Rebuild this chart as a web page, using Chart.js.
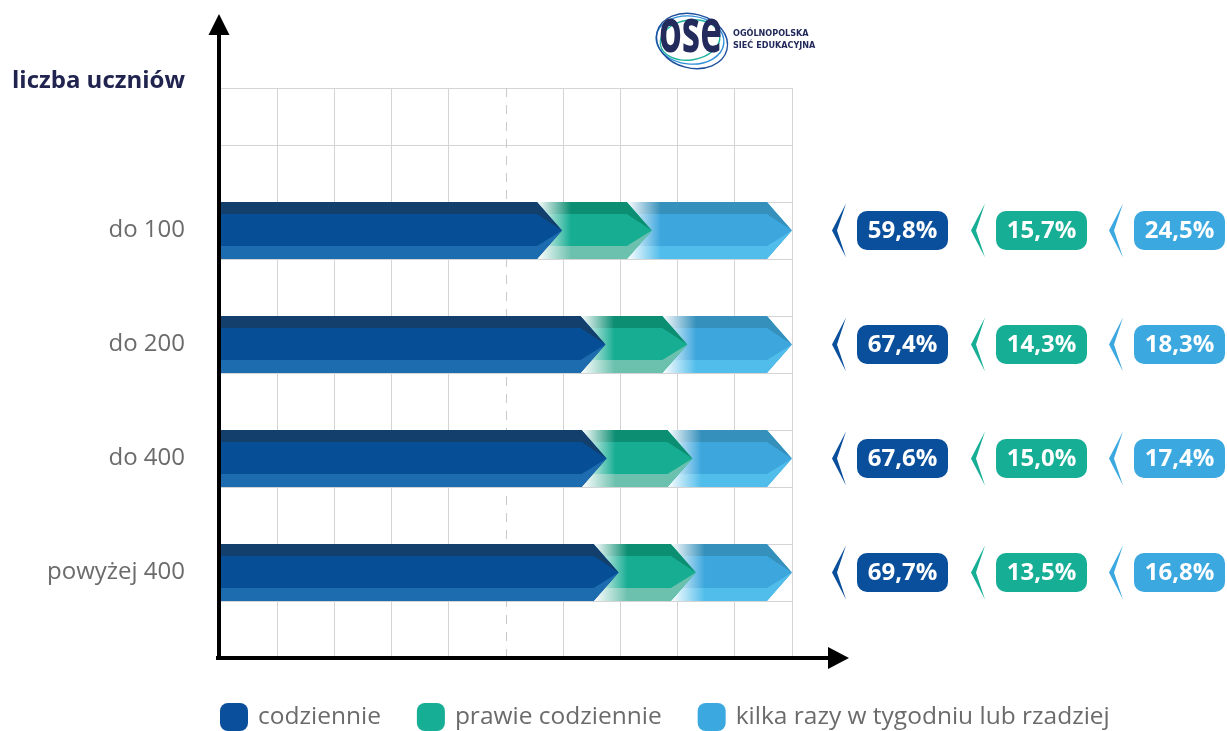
<!DOCTYPE html>
<html lang="pl">
<head>
<meta charset="utf-8">
<title>liczba uczniów</title>
<script src="https://cdn.jsdelivr.net/npm/chart.js@4.4.1/dist/chart.umd.min.js"></script>
<style>
    html, body { margin: 0; padding: 0; background: #ffffff; }
    #wrap { position: relative; width: 1227px; height: 731px; }
</style>
</head>
<body>
<div id="wrap"><canvas id="chart" width="1227" height="731"></canvas></div>
<script>
// dane
var categories = ['do 100', 'do 200', 'do 400', 'powyżej 400'];
var codziennie = [59.8, 67.4, 67.6, 69.7];
var prawieCodziennie = [15.7, 14.3, 15.0, 13.5];
var kilkaRazy = [24.5, 18.3, 17.4, 16.8];
var seriesNames = ['codziennie', 'prawie codziennie', 'kilka razy w tygodniu lub rzadziej'];
var xMin = 0;
var xMax = 100;
var xStep = 10;
var yAxisTitle = 'liczba uczniów';

(function (window, document) {
    'use strict';

    var FONT = '"Open Sans", "Noto Sans", sans-serif';
    var SLOTS = 10;

    // top band / middle / bottom band / label box
    var palette = [
        { top: '#123f6c', mid: '#064f96', bottom: '#1d6cb0', box: '#0a4f9b' },
        { top: '#0b8e72', mid: '#16ad93', bottom: '#6cc1ae', box: '#16ae94' },
        { top: '#3590bb', mid: '#3ca6dd', bottom: '#51bdeb', box: '#3ca8e0' }
    ];

    function slotOf(i) {
        return 2 + 2 * i;
    }

    function spread(values) {
        var out = [];
        for (var i = 0; i < SLOTS; i++) {
            out.push(null);
        }
        values.forEach(function (v, i) {
            out[slotOf(i)] = v;
        });
        return out;
    }

    function formatPct(v) {
        return v.toFixed(1).replace('.', ',') + '%';
    }

    var slotLabels = spread(categories).map(function (c) {
        return c || '';
    });

    function drawArrow(ctx, left, right, top, bottom, colors, fade) {
        var depth = 25;
        var cy = (top + bottom) / 2;
        var s = fade ? left - depth : left;
        var re = right - depth;
        var tip = right;
        var h = bottom - top;
        var bt = h * 0.21;
        var bb = h * 0.23;

        ctx.save();
        ctx.beginPath();
        ctx.moveTo(s, top);
        ctx.lineTo(re, top);
        ctx.lineTo(tip, cy);
        ctx.lineTo(re, bottom);
        ctx.lineTo(s, bottom);
        ctx.closePath();
        ctx.fillStyle = colors.mid;
        ctx.fill();
        ctx.clip();

        ctx.beginPath();
        ctx.moveTo(s, top);
        ctx.lineTo(re, top);
        ctx.lineTo(tip, cy);
        ctx.lineTo(re, top + bt);
        ctx.lineTo(s, top + bt);
        ctx.closePath();
        ctx.fillStyle = colors.top;
        ctx.fill();

        ctx.beginPath();
        ctx.moveTo(s, bottom - bb);
        ctx.lineTo(re, bottom - bb);
        ctx.lineTo(tip, cy);
        ctx.lineTo(re, bottom);
        ctx.lineTo(s, bottom);
        ctx.closePath();
        ctx.fillStyle = colors.bottom;
        ctx.fill();

        if (fade) {
            var g = ctx.createLinearGradient(s, 0, s + 34, 0);
            g.addColorStop(0, 'rgba(255,255,255,1)');
            g.addColorStop(1, 'rgba(255,255,255,0)');
            ctx.fillStyle = g;
            ctx.fillRect(s, top, 34, h);
        }
        ctx.restore();
    }

    var arrowBars = {
        id: 'arrowBars',
        beforeDatasetsDraw: function (chart) {
            var ctx = chart.ctx;
            var ca = chart.chartArea;
            var x50 = chart.scales.x.getPixelForValue(50);
            ctx.save();
            ctx.strokeStyle = '#c9c9c9';
            ctx.lineWidth = 1;
            ctx.setLineDash([9, 8]);
            ctx.beginPath();
            ctx.moveTo(Math.round(x50) + 0.5, ca.top);
            ctx.lineTo(Math.round(x50) + 0.5, ca.bottom);
            ctx.stroke();
            ctx.restore();
        },
        afterDatasetsDraw: function (chart) {
            var ctx = chart.ctx;
            for (var d = chart.data.datasets.length - 1; d >= 0; d--) {
                var meta = chart.getDatasetMeta(d);
                var values = chart.data.datasets[d].data;
                meta.data.forEach(function (bar, idx) {
                    if (values[idx] === null) {
                        return;
                    }
                    var p = bar.getProps(['x', 'y', 'base', 'height'], true);
                    drawArrow(ctx, p.base, p.x, p.y - p.height / 2, p.y + p.height / 2, palette[d], d > 0);
                });
            }
        }
    };

    var decorations = {
        id: 'decorations',
        afterDraw: function (chart) {
            var ctx = chart.ctx;
            var ca = chart.chartArea;
            var yScale = chart.scales.y;
            var series = [codziennie, prawieCodziennie, kilkaRazy];
            var boxOffsets = [65, 204, 342];

            ctx.save();

            // axes with arrows
            ctx.fillStyle = '#000000';
            ctx.fillRect(ca.left - 3, 34, 4, ca.bottom + 2 - 34);
            ctx.beginPath();
            ctx.moveTo(ca.left - 11.5, 35);
            ctx.lineTo(ca.left + 9.5, 35);
            ctx.lineTo(ca.left - 1, 14);
            ctx.closePath();
            ctx.fill();

            ctx.fillRect(ca.left - 4, ca.bottom - 2, 832 - ca.left, 4);
            ctx.beginPath();
            ctx.moveTo(828, ca.bottom - 11);
            ctx.lineTo(828, ca.bottom + 11);
            ctx.lineTo(849, ca.bottom);
            ctx.closePath();
            ctx.fill();

            // axis title
            ctx.fillStyle = '#20244f';
            ctx.font = 'bold 24px ' + FONT;
            ctx.textAlign = 'left';
            ctx.textBaseline = 'alphabetic';
            ctx.fillText(yAxisTitle, 12, 88);

            // value labels on the right
            categories.forEach(function (cat, i) {
                var cy = yScale.getPixelForValue(slotOf(i));
                series.forEach(function (vals, d) {
                    var bx = ca.right + boxOffsets[d];
                    ctx.fillStyle = palette[d].box;
                    ctx.beginPath();
                    ctx.moveTo(bx - 11, cy - 27);
                    ctx.lineTo(bx - 25, cy);
                    ctx.lineTo(bx - 11, cy + 27);
                    ctx.lineTo(bx - 20, cy);
                    ctx.closePath();
                    ctx.fill();

                    ctx.beginPath();
                    ctx.roundRect(bx, cy - 19.5, 91, 39, 10);
                    ctx.fill();

                    ctx.fillStyle = '#ffffff';
                    ctx.font = 'bold 24px ' + FONT;
                    ctx.textAlign = 'center';
                    ctx.textBaseline = 'middle';
                    ctx.fillText(formatPct(vals[i]), bx + 45.5, cy + 1);
                });
            });

            // legend
            var lx = ca.left;
            var ly = 703;
            ctx.font = '24.5px ' + FONT;
            ctx.textAlign = 'left';
            ctx.textBaseline = 'middle';
            seriesNames.forEach(function (name, d) {
                ctx.fillStyle = palette[d].box;
                ctx.beginPath();
                ctx.roundRect(lx, ly, 28, 28, 8);
                ctx.fill();
                ctx.fillStyle = '#6b6b6b';
                ctx.fillText(name, lx + 38, ly + 14);
                lx += 38 + ctx.measureText(name).width + 36;
            });

            // logo
            ctx.lineWidth = 1.4;
            [[690, 40, 34, 24, 0.1, '#2f8fd8'], [690, 40, 30, 20, -0.15, '#1fb39c'], [692, 41, 36, 27, 0.25, '#1d4f9c']].forEach(function (e) {
                ctx.strokeStyle = e[5];
                ctx.beginPath();
                ctx.ellipse(e[0], e[1], e[2], e[3], e[4], 0, Math.PI * 2);
                ctx.stroke();
            });
            ctx.save();
            ctx.font = 'bold 60px ' + FONT;
            var w = ctx.measureText('ose').width;
            ctx.translate(659, 52);
            ctx.scale(63 / w, 1);
            ctx.fillStyle = '#232a5c';
            ctx.textAlign = 'left';
            ctx.textBaseline = 'alphabetic';
            ctx.fillText('ose', 0, 0);
            ctx.restore();

            ctx.fillStyle = '#232a5c';
            ctx.font = 'bold 9px "DejaVu Sans Condensed", ' + FONT;
            ctx.textAlign = 'left';
            ctx.textBaseline = 'alphabetic';
            ctx.fillText('OGÓLNOPOLSKA', 733, 36);
            ctx.fillText('SIEĆ EDUKACYJNA', 733, 48);

            ctx.restore();
        }
    };

    function init() {
        if (typeof Chart === 'undefined') {
            return;
        }

        var canvas = document.getElementById('chart');
        var seriesValues = [codziennie, prawieCodziennie, kilkaRazy];

        new Chart(canvas, {
            type: 'bar',
            data: {
                labels: slotLabels,
                datasets: seriesValues.map(function (vals, d) {
                    return {
                        label: seriesNames[d],
                        data: spread(vals),
                        backgroundColor: 'rgba(0,0,0,0)',
                        borderWidth: 0,
                        barPercentage: 1,
                        categoryPercentage: 1
                    };
                })
            },
            options: {
                indexAxis: 'y',
                responsive: false,
                animation: false,
                layout: {
                    padding: { top: 88, right: 435, bottom: 73, left: 0 }
                },
                plugins: {
                    legend: { display: false },
                    tooltip: { enabled: false }
                },
                scales: {
                    x: {
                        stacked: true,
                        min: xMin,
                        max: xMax,
                        ticks: { display: false, stepSize: xStep },
                        grid: {
                            drawTicks: false,
                            color: function (c) {
                                return c.tick && c.tick.value === 50 ? 'rgba(0,0,0,0)' : '#d4d4d4';
                            }
                        },
                        border: { display: false },
                        afterFit: function (scale) {
                            scale.height = 0;
                        }
                    },
                    y: {
                        stacked: true,
                        ticks: {
                            autoSkip: false,
                            padding: 35,
                            color: '#6b6b6b',
                            font: { family: FONT, size: 24 }
                        },
                        grid: {
                            drawTicks: false,
                            offset: true,
                            color: '#d4d4d4'
                        },
                        border: { display: false },
                        afterFit: function (scale) {
                            scale.width = 220;
                        }
                    }
                }
            },
            plugins: [arrowBars, decorations]
        });
    }

    if (document.readyState === 'loading') {
        document.addEventListener('DOMContentLoaded', init);
    } else {
        init();
    }
})(window, document);
</script>
</body>
</html>
